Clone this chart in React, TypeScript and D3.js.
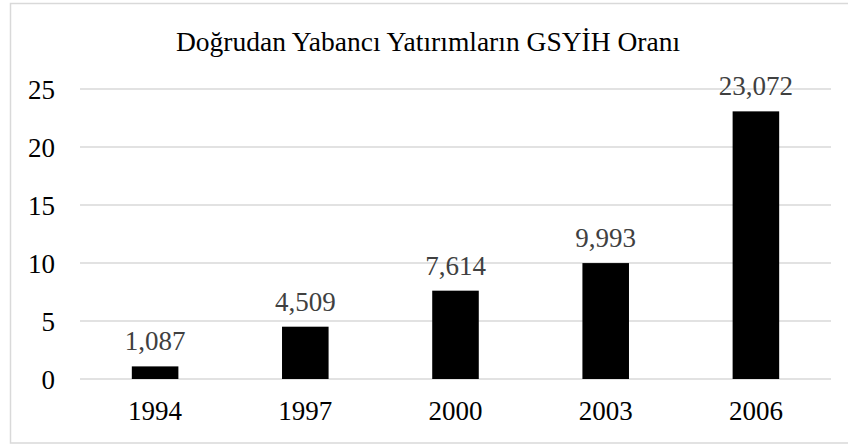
import React from "react";
import * as d3 from "d3";

const categories = ["1994", "1997", "2000", "2003", "2006"];
const values = [1.087, 4.509, 7.614, 9.993, 23.072];
const valueLabels = ["1,087", "4,509", "7,614", "9,993", "23,072"];
const yTicks = [0, 5, 10, 15, 20, 25];
const title = "Doğrudan Yabancı Yatırımların GSYİH Oranı";

export default function App() {
  const W = 848, H = 448;
  const left = 80, right = 831, top = 89, bottom = 379;
  const x = d3.scaleBand<string>().domain(categories).range([left, right]).paddingInner(0.69).paddingOuter(0.345);
  const y = d3.scaleLinear().domain([0, 25]).range([bottom, top]);
  const font = "'Liberation Serif', 'Times New Roman', serif";
  return (
    <svg width={W} height={H} style={{ position: "absolute", left: 0, top: 0, background: "#fff" }}>
      <rect x={10.5} y={3.5} width={W + 10} height={439.5} fill="#fff" stroke="#d9d9d9" strokeWidth={1.5} />
      <text x={428} y={51} textAnchor="middle" fontFamily={font} fontSize={27.5} fill="#000">{title}</text>
      {yTicks.map(t => (
        <g key={t}>
          <line x1={left} x2={right} y1={y(t)} y2={y(t)} stroke="#d9d9d9" strokeWidth={1.5} />
          <text x={55} y={y(t) + 9.5} textAnchor="end" fontFamily={font} fontSize={27} fill="#000">{t}</text>
        </g>
      ))}
      {categories.map((c, i) => (
        <g key={c}>
          <rect x={x(c)} y={y(values[i])} width={x.bandwidth()} height={y(0) - y(values[i])} fill="#000" />
          <text x={(x(c) as number) + x.bandwidth() / 2} y={y(values[i]) - 16} textAnchor="middle" fontFamily={font} fontSize={27} fill="#404040">{valueLabels[i]}</text>
          <text x={(x(c) as number) + x.bandwidth() / 2} y={420} textAnchor="middle" fontFamily={font} fontSize={27} fill="#000">{c}</text>
        </g>
      ))}
    </svg>
  );
}
